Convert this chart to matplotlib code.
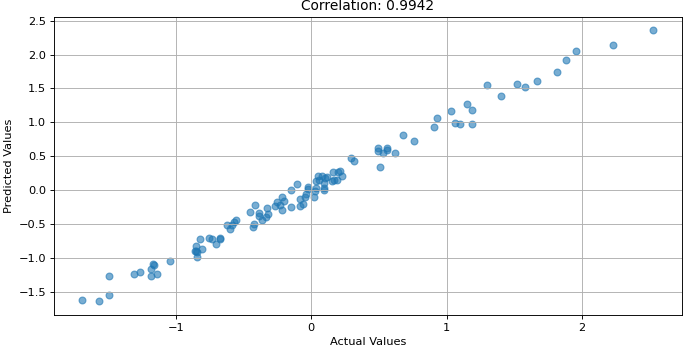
#!/usr/bin/env python3
"""
Scatter of actual vs predicted values with correlation in the title
"""

import matplotlib
matplotlib.use('Agg')
import matplotlib.pyplot as plt
import numpy as np

# Data
actual = [
    -1.693, -1.567, -1.496, -1.491, -1.306, -1.265, -1.181, -1.186, -1.166, -1.160,
    -1.137, -1.041, -0.852, -0.859, -0.844, -0.850, -0.844, -0.807, -0.819, -0.756,
    -0.731, -0.701, -0.677, -0.672, -0.625, -0.601, -0.588, -0.573, -0.554, -0.428,
    -0.424, -0.367, -0.332, -0.389, -0.387, -0.320, -0.453, -0.416, -0.325, -0.269,
    -0.251, -0.212, -0.219, -0.150, -0.148, -0.103, -0.025, 0.039, 0.027, -0.037,
    -0.049, -0.084, -0.062, -0.084, -0.202, -0.234, 0.039, 0.052, 0.080, 0.105,
    0.091, 0.093, 0.152, 0.292, 0.314, 0.216, 0.196, 0.229, 0.172, 0.194,
    0.120, 0.061, 0.096, -0.020, 0.024, 0.676, 0.760, 0.492, 0.492, 0.558,
    0.558, 0.531, 0.617, 0.509, 0.927, 0.910, 1.030, 1.063, 1.102, 1.185,
    1.148, 1.185, 1.301, 1.399, 1.520, 1.582, 1.665, 1.813, 1.884, 1.958,
    2.226, 2.526, 0.160,
]
predicted = [
    -1.625, -1.635, -1.556, -1.270, -1.236, -1.211, -1.270, -1.172, -1.093, -1.105,
    -1.246, -1.054, -0.827, -0.896, -0.916, -0.905, -0.985, -0.872, -0.724, -0.704,
    -0.719, -0.802, -0.704, -0.724, -0.520, -0.571, -0.512, -0.468, -0.443, -0.542,
    -0.502, -0.443, -0.403, -0.384, -0.335, -0.359, -0.320, -0.226, -0.271, -0.231,
    -0.172, -0.290, -0.108, -0.251, 0.000, 0.093, 0.044, 0.034, -0.015, -0.059,
    -0.099, -0.137, -0.207, -0.232, -0.162, -0.222, 0.133, 0.205, 0.205, 0.182,
    0.108, 0.025, 0.133, 0.472, 0.430, 0.285, 0.261, 0.207, 0.148, 0.148,
    0.190, 0.148, 0.000, 0.010, -0.099, 0.812, 0.719, 0.616, 0.576, 0.625,
    0.591, 0.547, 0.551, 0.340, 1.059, 0.935, 1.172, 0.994, 0.970, 0.979,
    1.275, 1.182, 1.546, 1.388, 1.561, 1.517, 1.606, 1.743, 1.925, 2.053,
    2.146, 2.359, 0.265,
]
corr_value = 0.9942


def create_scatter():
    """actual vs predicted"""
    # reference looks like a downscaled render, so scale everything via dpi
    dpi = 82.2
    fig = plt.figure(figsize=(685 / dpi, 348 / dpi), dpi=dpi)
    ax = fig.add_axes([0.0788, 0.096, 0.917, 0.856])

    ax.scatter(actual, predicted, alpha=0.6, color='#1f77b4')

    ax.set_xlim(-1.90, 2.74)
    ax.set_ylim(-1.84, 2.56)
    ax.set_xlabel('Actual Values')
    ax.set_ylabel('Predicted Values')
    ax.set_title(f'Correlation: {corr_value:.4f}')
    ax.grid(True)

    fig.savefig('out.png', dpi=dpi, facecolor='white')
    plt.close(fig)


if __name__ == "__main__":
    create_scatter()
